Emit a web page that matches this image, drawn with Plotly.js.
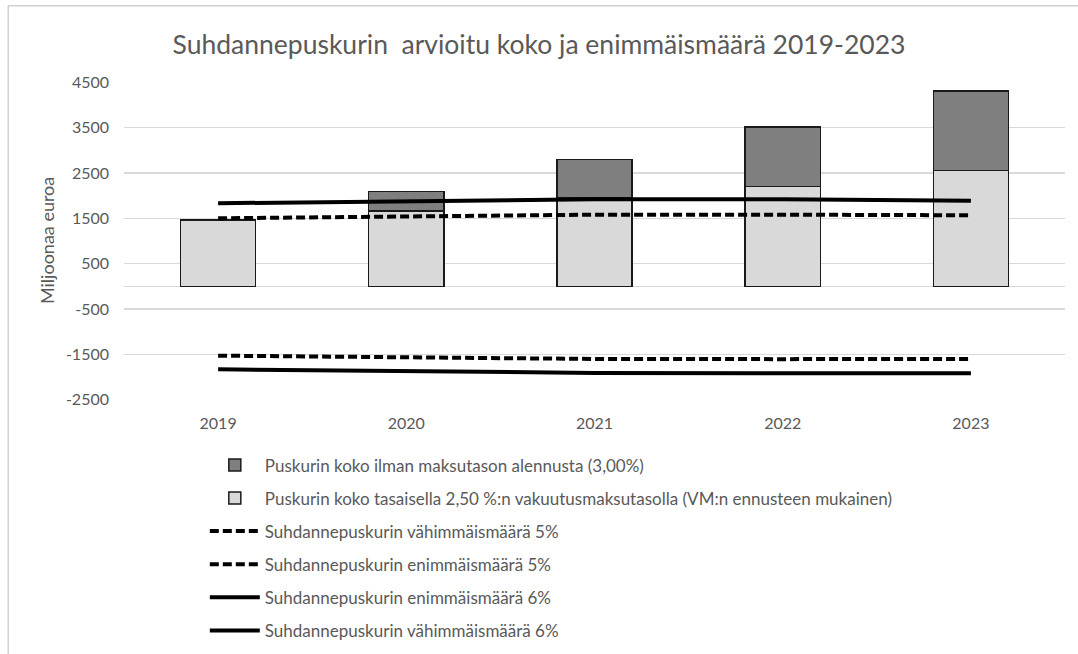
<!DOCTYPE html>
<html>
<head>
<meta charset="utf-8">
<script src="https://cdn.plot.ly/plotly-3.0.1.min.js"></script>
<style>html,body{margin:0;padding:0;background:#fff;}#chart{width:1078px;height:654px;}</style>
</head>
<body>
<div id="chart"></div>
<script>
const years = ['2019', '2020', '2021', '2022', '2023'];
const sizeFlat = [1465, 1663, 1950, 2198, 2551];      // 2,50 % vakuutusmaksutaso
const sizeExtra = [0, 434, 852, 1322, 1762];           // lisä ilman maksutason alennusta
const max5 = [1502, 1537, 1581, 1581, 1568];
const min5 = [-1531, -1575, -1604, -1608, -1604];
const max6 = [1833, 1868, 1920, 1920, 1890];
const min6 = [-1832, -1868, -1912, -1920, -1920];
const yTicks = [-2500, -1500, -500, 500, 1500, 2500, 3500, 4500];

const names = {
  extra: 'Puskurin koko ilman maksutason alennusta (3,00%)',
  flat: 'Puskurin koko tasaisella 2,50 %:n vakuutusmaksutasolla (VM:n ennusteen mukainen)',
  min5: 'Suhdannepuskurin vähimmäismäärä 5%',
  max5: 'Suhdannepuskurin enimmäismäärä 5%',
  max6: 'Suhdannepuskurin enimmäismäärä 6%',
  min6: 'Suhdannepuskurin vähimmäismäärä 6%'
};
const yTitle = 'Miljoonaa euroa';

const dashStyle = {color: '#000', width: 4, dash: '9px,4px'};
const solidStyle = {color: '#000', width: 4};

const traces = [
  {type: 'bar', x: years, y: sizeFlat, name: names.flat, legendrank: 2, legendgroup: 'b',
   marker: {color: '#d9d9d9', line: {color: '#1a1a1a', width: 1.5}}, hoverinfo: 'y'},
  {type: 'bar', x: years, y: sizeExtra, name: names.extra, legendrank: 1, legendgroup: 'a',
   marker: {color: '#7f7f7f', line: {color: '#1a1a1a', width: 1.5}}, hoverinfo: 'y'},
  {type: 'scatter', mode: 'lines', x: years, y: min5, name: names.min5, legendrank: 3, legendgroup: 'c', line: dashStyle},
  {type: 'scatter', mode: 'lines', x: years, y: max5, name: names.max5, legendrank: 4, legendgroup: 'd', line: dashStyle},
  {type: 'scatter', mode: 'lines', x: years, y: max6, name: names.max6, legendrank: 5, legendgroup: 'e', line: solidStyle},
  {type: 'scatter', mode: 'lines', x: years, y: min6, name: names.min6, legendrank: 6, legendgroup: 'f', line: solidStyle}
];

const font = 'Lato, sans-serif';

const layout = {
  width: 1078, height: 654,
  paper_bgcolor: '#fff', plot_bgcolor: '#fff',
  margin: {l: 124, r: 13, t: 82, b: 254, autoexpand: false},
  barmode: 'stack', bargap: 0.6,
  showlegend: true,
  font: {family: font, color: '#595959', size: 16},
  title: {text: 'Suhdannepuskurin  arvioitu koko ja enimmäismäärä 2019-2023',
          font: {family: font, size: 26.5, color: '#595959'},
          x: 0.5, xanchor: 'center', y: 0.932, yanchor: 'middle', yref: 'container'},
  xaxis: {type: 'category', showgrid: false, zeroline: false, showline: false, automargin: false,
          ticks: '', tickfont: {size: 16, color: '#595959'}, ticklabelstandoff: 12},
  yaxis: {range: [-2510, 4510], tickvals: yTicks, ticktext: yTicks.map(String), automargin: false,
          showgrid: true, gridcolor: '#d9d9d9', gridwidth: 1.3,
          zeroline: true, zerolinecolor: '#d9d9d9', zerolinewidth: 1.3,
          showline: false, ticks: '', tickfont: {size: 16, color: '#595959'}, ticklabelstandoff: 14},
  annotations: [
    {text: yTitle, xref: 'paper', yref: 'paper', x: -0.0818, y: 0.5, xanchor: 'center', yanchor: 'middle',
     textangle: -90, showarrow: false, font: {size: 18, color: '#595959'}}
  ],
  legend: {orientation: 'v', xref: 'container', yref: 'container', x: 0.19, xanchor: 'left', y: 0.316, yanchor: 'top',
           traceorder: 'grouped', tracegroupgap: 8, itemwidth: 50,
           font: {size: 17, color: '#595959'}, bgcolor: 'rgba(0,0,0,0)'},
  shapes: [
    {type: 'line', xref: 'paper', yref: 'paper', x0: -0.123, x1: -0.123, y0: 1.24, y1: -0.8,
     line: {color: '#d0d0d0', width: 1.5}},
    {type: 'line', xref: 'paper', yref: 'paper', x0: -0.123, x1: 1.02, y0: 1.24, y1: 1.24,
     line: {color: '#d0d0d0', width: 1.5}}
  ]
};

Plotly.newPlot('chart', traces, layout, {displayModeBar: false, staticPlot: true});
</script>
</body>
</html>
